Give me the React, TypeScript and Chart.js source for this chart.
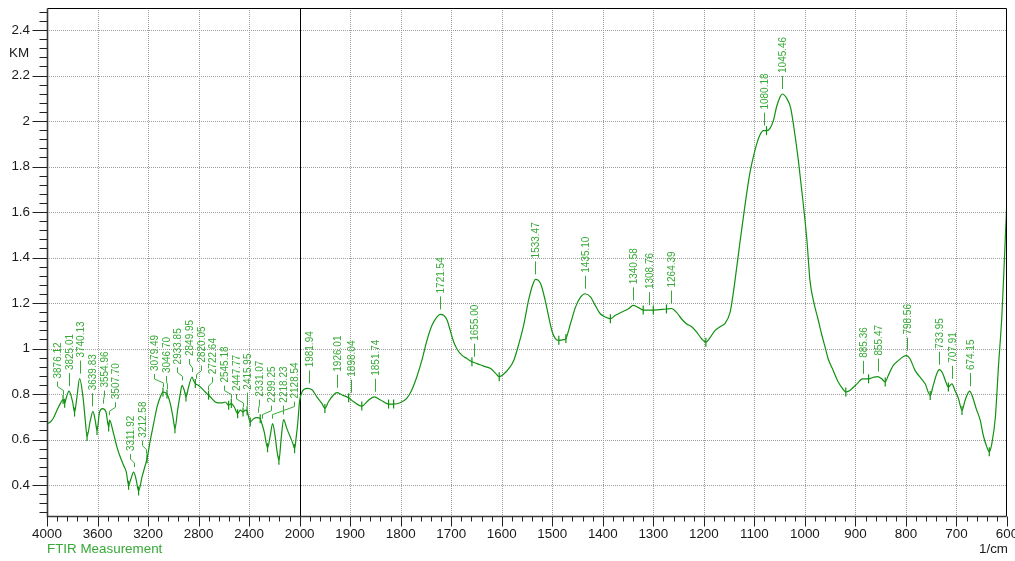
import React, { useEffect, useRef } from "react";
import { Chart, registerables } from "chart.js";

Chart.register(...registerables);

// ---- Data ----
const WAVENUMBERS = [
  4000, 3974, 3948, 3921, 3895, 3873, 3860, 3847, 3826, 3797, 3782, 3763, 3742, 3715, 3697, 3683,
  3657, 3636, 3618, 3604, 3584, 3560, 3533, 3512, 3505, 3473, 3446, 3420, 3394, 3372, 3354, 3335,
  3314, 3293, 3275, 3248, 3222, 3208, 3182, 3156, 3129, 3103, 3082, 3050, 3024, 3003, 2987, 2966,
  2945, 2931, 2913, 2900, 2879, 2852, 2840, 2826, 2800, 2773, 2747, 2721, 2694, 2668, 2642, 2615,
  2589, 2562, 2541, 2517, 2491, 2470, 2448, 2430, 2416, 2410, 2391, 2365, 2338, 2312, 2299, 2280,
  2254, 2232, 2214, 2193, 2180, 2164, 2145, 2127, 2101, 2074, 2053, 2040, 2027, 2013, 2000,
  1995, 1985, 1975, 1966, 1956, 1950, 1943, 1933, 1926, 1916, 1903, 1893, 1877, 1863, 1852, 1840,
  1824, 1814, 1801, 1788, 1778, 1768, 1758, 1748, 1738, 1728, 1722, 1715, 1708, 1702, 1695, 1688,
  1679, 1669, 1659, 1649, 1636, 1622, 1613, 1605, 1596, 1586, 1576, 1566, 1556, 1547, 1538, 1533,
  1523, 1514, 1507, 1500, 1494, 1487, 1477, 1473, 1464, 1454, 1444, 1435, 1424, 1415, 1405, 1395,
  1385, 1375, 1362, 1349, 1340, 1330, 1320, 1300, 1274, 1264, 1254, 1244, 1234, 1224, 1214, 1204,
  1196, 1188, 1178, 1168, 1158, 1148, 1142, 1135, 1128, 1119, 1109, 1102, 1095, 1089, 1082, 1076,
  1069, 1062, 1056, 1049, 1045, 1036, 1028, 1022, 1013, 1004, 996, 990, 983, 973, 967, 960,
  954, 944, 934, 925, 919, 911, 897, 886, 874, 864, 856, 848, 841, 835, 825, 815,
  805, 799, 792, 782, 772, 762, 752, 746, 739, 734, 727, 721, 716, 709, 703, 696,
  689, 683, 674, 668, 661, 653, 647, 640, 635, 630, 623, 617, 610, 605, 600,
];

const KM_VALUES = [
  0.670, 0.677, 0.696, 0.729, 0.758, 0.776, 0.760, 0.784, 0.813, 0.765, 0.721, 0.787, 0.868, 0.787, 0.684, 0.614,
  0.684, 0.724, 0.684, 0.640, 0.721, 0.736, 0.721, 0.655, 0.685, 0.626, 0.567, 0.523, 0.487, 0.457, 0.399, 0.428,
  0.457, 0.421, 0.374, 0.435, 0.487, 0.516, 0.597, 0.670, 0.743, 0.787, 0.809, 0.800, 0.758, 0.699, 0.648, 0.729,
  0.800, 0.838, 0.816, 0.787, 0.831, 0.875, 0.860, 0.846, 0.838, 0.824, 0.809, 0.795, 0.780, 0.765, 0.761, 0.761,
  0.765, 0.751, 0.758, 0.743, 0.714, 0.729, 0.721, 0.729, 0.727, 0.714, 0.677, 0.692, 0.696, 0.692, 0.670, 0.633,
  0.564, 0.619, 0.670, 0.611, 0.553, 0.509, 0.611, 0.688, 0.648, 0.611, 0.582, 0.560, 0.611, 0.684, 0.770,
  0.810, 0.825, 0.818, 0.788, 0.759, 0.737, 0.766, 0.796, 0.806, 0.796, 0.784, 0.766, 0.747, 0.774, 0.788, 0.774,
  0.756, 0.756, 0.762, 0.781, 0.818, 0.876, 0.949, 1.036, 1.102, 1.139, 1.150, 1.146, 1.124, 1.080, 1.029, 0.996,
  0.971, 0.956, 0.942, 0.934, 0.923, 0.912, 0.893, 0.876, 0.888, 0.912, 0.949, 1.022, 1.109, 1.212, 1.285, 1.304,
  1.285, 1.212, 1.139, 1.073, 1.044, 1.036, 1.039, 1.044, 1.109, 1.182, 1.226, 1.241, 1.226, 1.190, 1.153, 1.139,
  1.131, 1.146, 1.161, 1.175, 1.190, 1.181, 1.169, 1.169, 1.174, 1.176, 1.159, 1.130, 1.108, 1.096, 1.072, 1.042,
  1.028, 1.047, 1.079, 1.096, 1.111, 1.160, 1.239, 1.356, 1.476, 1.623, 1.770, 1.843, 1.902, 1.939, 1.958, 1.958,
  1.968, 2.005, 2.063, 2.107, 2.119, 2.100, 2.056, 1.975, 1.828, 1.652, 1.476, 1.300, 1.210, 1.120, 1.064, 1.006,
  0.955, 0.904, 0.853, 0.823, 0.809, 0.816, 0.845, 0.867, 0.867, 0.874, 0.877, 0.867, 0.853, 0.882, 0.926, 0.947,
  0.965, 0.969, 0.955, 0.904, 0.874, 0.845, 0.794, 0.838, 0.889, 0.907, 0.889, 0.853, 0.831, 0.845, 0.816, 0.780,
  0.728, 0.772, 0.813, 0.787, 0.736, 0.685, 0.619, 0.568, 0.546, 0.582, 0.699, 0.918, 1.150, 1.400, 1.660,
];

const PEAK_LABELS = [
  "3876.12", "3825.01", "3740.13", "3639.83", "3554.96", "3507.70", "3311.92", "3212.58",
  "3079.49", "3046.70", "2933.85", "2849.95", "2820.05", "2722.64", "2545.18", "2447.77",
  "2415.95", "2331.07", "2299.25", "2218.23", "2128.54", "1981.94", "1926.01", "1898.04",
  "1851.74", "1721.54", "1655.00", "1533.47", "1435.10", "1340.58", "1308.76", "1264.39",
  "1080.18", "1045.46", "885.36", "855.47", "798.56", "733.95", "707.91", "674.15",
];

const MARKER_WAVENUMBERS = [
  3873, 3860, 3782, 3683, 3604, 3512, 3354, 3275, 3208, 3082, 3050, 2987, 2900, 2826, 2721,
  2562, 2541, 2491, 2448, 2416, 2391, 2312, 2254, 2164, 2040,
  1950, 1903, 1877, 1824, 1814, 1659, 1605, 1487, 1473, 1385, 1320, 1300, 1274, 1196, 1076,
  919, 874, 841, 752, 716, 689, 635,
];

const X_TICKS = [4000, 3600, 3200, 2800, 2400, 2000, 1900, 1800, 1700, 1600, 1500, 1400, 1300, 1200, 1100, 1000, 900, 800, 700, 600];
const Y_TICKS = [0.4, 0.6, 0.8, 1.0, 1.2, 1.4, 1.6, 1.8, 2.0, 2.2, 2.4];
const Y_MIN = 0.264;
const Y_MAX = 2.497;

const Y_TITLE = "KM";
const X_TITLE = "1/cm";
const SERIES_NAME = "FTIR Measurement";

const CURVE_COLOR = "#119111";
const LABEL_COLOR = "#36a936";
const FONT = '"Liberation Sans", Arial, sans-serif';

// split axis: 4000-2000 at 400 per division, 2000-600 at 100 per division
const toU = (w: number) => (w >= 2000 ? (4000 - w) / 400 : 5 + (2000 - w) / 100);
const fromU = (u: number) => (u <= 5 ? 4000 - 400 * u : 2000 - 100 * (u - 5));
const U_MAX = toU(600);

const nearestIndex = (w: number) => {
  let best = 0;
  let bd = Infinity;
  WAVENUMBERS.forEach((v, i) => {
    const d = Math.abs(v - w);
    if (d < bd) {
      bd = d;
      best = i;
    }
  });
  return best;
};

const ftirPlugin = {
  id: "ftirDecor",
  beforeDatasetsDraw(chart: any) {
    const { ctx, chartArea: a, scales } = chart;
    const x = scales.x;
    const y = scales.y;
    ctx.save();
    ctx.strokeStyle = "#9c9c9c";
    ctx.lineWidth = 1;
    ctx.setLineDash([1, 1]);
    X_TICKS.forEach((w) => {
      const u = toU(w);
      if (u <= 0 || u >= U_MAX || w === 2000) return;
      const px = Math.round(x.getPixelForValue(u)) + 0.5;
      ctx.beginPath();
      ctx.moveTo(px, a.top);
      ctx.lineTo(px, a.bottom);
      ctx.stroke();
    });
    Y_TICKS.forEach((v) => {
      const py = Math.round(y.getPixelForValue(v)) + 0.5;
      ctx.beginPath();
      ctx.moveTo(a.left, py);
      ctx.lineTo(a.right, py);
      ctx.stroke();
    });
    ctx.setLineDash([]);
    ctx.strokeStyle = "#000";
    const p2000 = Math.round(x.getPixelForValue(toU(2000))) + 0.5;
    ctx.beginPath();
    ctx.moveTo(p2000, a.top);
    ctx.lineTo(p2000, a.bottom);
    ctx.stroke();
    ctx.restore();
  },
  afterDraw(chart: any) {
    const { ctx, chartArea: a, scales } = chart;
    const x = scales.x;
    const y = scales.y;
    const L = Math.round(a.left) + 0.5;
    const R = Math.round(a.right) - 0.5;
    const T = Math.round(a.top) + 0.5;
    const B = Math.round(a.bottom) + 0.5;
    ctx.save();
    // frame
    ctx.strokeStyle = "#000";
    ctx.lineWidth = 1;
    ctx.beginPath();
    ctx.moveTo(L, T);
    ctx.lineTo(R, T);
    ctx.lineTo(R, B);
    ctx.stroke();
    ctx.strokeStyle = "#3a3a3a";
    ctx.lineWidth = 1.6;
    ctx.beginPath();
    ctx.moveTo(L, T);
    ctx.lineTo(L, B);
    ctx.lineTo(R, B);
    ctx.stroke();

    // tick marks
    ctx.lineWidth = 1;
    ctx.strokeStyle = "#222";
    for (let i = 0; i <= Math.round(U_MAX * 5); i++) {
      const u = i / 5;
      const major = i % 5 === 0;
      const px = Math.round(x.getPixelForValue(u)) + 0.5;
      ctx.beginPath();
      ctx.moveTo(px, B);
      ctx.lineTo(px, B + (major ? 10 : 5));
      ctx.stroke();
    }
    for (let i = 7; i <= 62; i++) {
      const v = i * 0.04;
      if (v < Y_MIN || v > Y_MAX) continue;
      const major = i % 5 === 0;
      const py = Math.round(y.getPixelForValue(v)) + 0.5;
      ctx.beginPath();
      ctx.moveTo(L, py);
      ctx.lineTo(L - (major ? 15 : 8), py);
      ctx.stroke();
    }

    // axis titles and series name
    ctx.fillStyle = "#1a1a1a";
    ctx.font = `13.4px ${FONT}`;
    ctx.textBaseline = "middle";
    ctx.textAlign = "center";
    ctx.fillText(Y_TITLE, 19, y.getPixelForValue(2.3));
    ctx.textAlign = "right";
    ctx.fillText(X_TITLE, 1008, 549);
    ctx.textAlign = "left";
    ctx.fillStyle = LABEL_COLOR;
    ctx.fillText(SERIES_NAME, a.left, 549);

    // peak labels
    const gap = 11.7;
    const anchors = PEAK_LABELS.map((text) => {
      const w = parseFloat(text);
      const idx = nearestIndex(w);
      return { text, ax: x.getPixelForValue(toU(w)), ay: y.getPixelForValue(KM_VALUES[idx]) };
    }).sort((p, q) => p.ax - q.ax);
    let clusters = anchors.map((p) => ({ items: [p], start: p.ax }));
    let merged = true;
    while (merged) {
      merged = false;
      for (let i = 0; i < clusters.length - 1; i++) {
        const c1 = clusters[i];
        const c2 = clusters[i + 1];
        const end1 = c1.start + (c1.items.length - 1) * gap;
        if (c2.start - end1 < gap) {
          const items = c1.items.concat(c2.items);
          const mean = items.reduce((s, p) => s + p.ax, 0) / items.length;
          clusters.splice(i, 2, { items, start: mean - ((items.length - 1) * gap) / 2 });
          merged = true;
          break;
        }
      }
    }
    ctx.strokeStyle = LABEL_COLOR;
    ctx.fillStyle = LABEL_COLOR;
    ctx.lineWidth = 1;
    ctx.font = `10px ${FONT}`;
    ctx.textAlign = "left";
    ctx.textBaseline = "middle";
    clusters.forEach((c) => {
      c.items.forEach((p, k) => {
        const lx = c.start + k * gap;
        const ax = Math.round(p.ax) + 0.5;
        const lxr = Math.round(lx) + 0.5;
        ctx.beginPath();
        if (Math.abs(lxr - ax) < 1) {
          ctx.moveTo(ax, p.ay - 5);
          ctx.lineTo(ax, p.ay - 18);
        } else {
          ctx.moveTo(ax, p.ay - 5);
          ctx.lineTo(ax, p.ay - 9);
          ctx.lineTo(lxr, p.ay - 13);
          ctx.lineTo(lxr, p.ay - 18);
        }
        ctx.stroke();
        ctx.save();
        ctx.translate(lxr, p.ay - 21);
        ctx.rotate(-Math.PI / 2);
        ctx.fillText(p.text, 0, 0.5);
        ctx.restore();
      });
    });
    ctx.restore();
  },
};

export default function App() {
  const ref = useRef<HTMLCanvasElement | null>(null);
  useEffect(() => {
    if (!ref.current) return;
    const curve = WAVENUMBERS.map((w, i) => ({ x: toU(w), y: KM_VALUES[i] })).sort((p, q) => p.x - q.x);
    const markers = MARKER_WAVENUMBERS.map((w) => {
      const i = WAVENUMBERS.indexOf(w);
      return { x: toU(w), y: KM_VALUES[i] };
    });
    const chart = new Chart(ref.current, {
      type: "scatter",
      data: {
        datasets: [
          {
            label: SERIES_NAME,
            data: curve,
            showLine: true,
            borderColor: CURVE_COLOR,
            borderWidth: 1.2,
            pointRadius: 0,
            cubicInterpolationMode: "monotone",
          },
          {
            label: "markers",
            data: markers,
            showLine: false,
            pointStyle: "line",
            rotation: 90,
            pointRadius: 4.5,
            borderColor: CURVE_COLOR,
            borderWidth: 1.2,
          },
        ],
      },
      options: {
        animation: false,
        responsive: false,
        devicePixelRatio: 1,
        layout: { padding: { left: 0, right: 8, top: 8, bottom: 0 } },
        plugins: { legend: { display: false }, tooltip: { enabled: false } },
        scales: {
          x: {
            type: "linear",
            min: 0,
            max: U_MAX,
            grid: { display: false, drawTicks: false },
            border: { display: false },
            afterBuildTicks: (scale: any) => {
              scale.ticks = X_TICKS.map((w) => ({ value: toU(w) }));
            },
            afterFit: (scale: any) => {
              scale.height = 45;
              scale.paddingLeft = 0;
              scale.paddingRight = 0;
            },
            ticks: {
              autoSkip: false,
              maxRotation: 0,
              padding: 10,
              color: "#1a1a1a",
              font: { family: FONT, size: 13.4 },
              callback: (v: any) => String(Math.round(fromU(Number(v)))),
            },
          },
          y: {
            type: "linear",
            min: Y_MIN,
            max: Y_MAX,
            grid: { display: false, drawTicks: false },
            border: { display: false },
            afterBuildTicks: (scale: any) => {
              scale.ticks = Y_TICKS.map((v) => ({ value: v }));
            },
            afterFit: (scale: any) => {
              scale.width = 47;
              scale.paddingTop = 0;
              scale.paddingBottom = 0;
            },
            ticks: {
              padding: 17,
              color: "#1a1a1a",
              font: { family: FONT, size: 13.4 },
              callback: (v: any) => String(Math.round(Number(v) * 10) / 10),
            },
          },
        },
      },
      plugins: [ftirPlugin],
    });
    return () => chart.destroy();
  }, []);
  return (
    <canvas
      ref={ref}
      width={1015}
      height={561}
      style={{ position: "fixed", left: 0, top: 0, width: 1015, height: 561, display: "block" }}
    />
  );
}
